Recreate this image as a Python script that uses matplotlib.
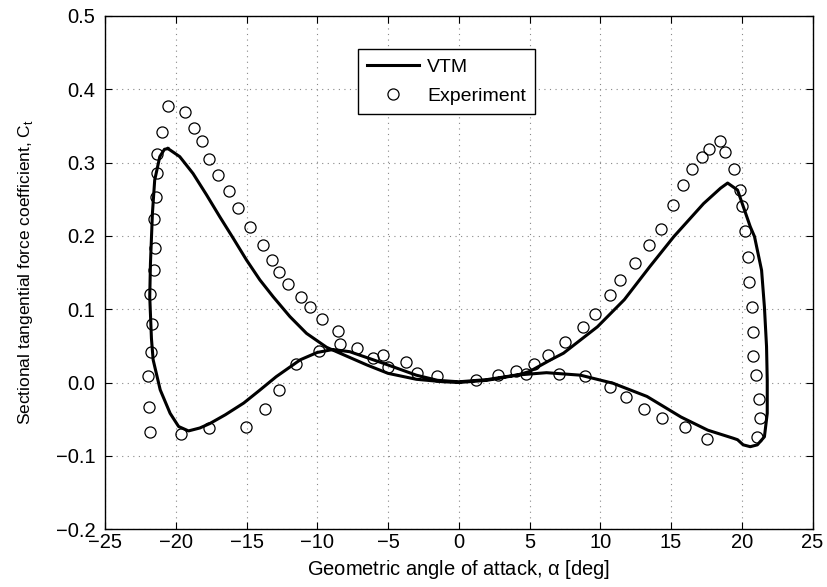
import numpy as np
import matplotlib
matplotlib.use("Agg")
import matplotlib.pyplot as plt

plt.rcParams["font.family"] = ["Liberation Sans", "DejaVu Sans"]
plt.rcParams["axes.unicode_minus"] = True

# VTM prediction, closed hysteresis loop (alpha in deg, Ct)
vtm_alpha = [-20.55, -19.72, -18.78, -17.83, -16.89, -15.95, -15.0, -14.06, -13.12, -11.94,
             -10.76, -9.34, -8.4, -6.5, -5.0, -3.0, -1.1, 0.0, 2.0, 4.1,
             5.0, 6.5, 7.4, 9.8, 11.7, 13.5, 15.2, 17.3, 18.5, 19.0,
             19.7, 20.6, 20.9, 21.4, 21.6, 21.75, 21.8, 21.8, 21.6, 21.1,
             20.6, 20.1, 19.7, 19.4, 17.6, 15.7, 13.3, 10.9, 8.6, 6.2,
             4.0, 2.0, 0.0, -1.5, -3.0, -5.3, -7.7, -8.9, -10.0, -11.2,
             -12.9, -14.1, -15.2, -16.5, -17.6, -18.3, -19.1, -19.8, -20.4, -21.1,
             -21.6, -21.72, -21.84, -21.79, -21.65, -21.49, -21.13, -20.8, -20.55]
vtm_ct = [0.319, 0.308, 0.285, 0.256, 0.226, 0.197, 0.167, 0.140, 0.117, 0.090,
          0.067, 0.048, 0.040, 0.024, 0.0125, 0.0044, 0.001, 0.0, 0.003, 0.010,
          0.015, 0.031, 0.040, 0.076, 0.113, 0.158, 0.199, 0.244, 0.265, 0.272,
          0.2625, 0.2125, 0.199, 0.153, 0.103, 0.049, 0.003, -0.042, -0.074, -0.085,
          -0.0875, -0.085, -0.078, -0.076, -0.065, -0.047, -0.019, -0.001, 0.010, 0.0134,
          0.010, 0.004, 0.001, 0.003, 0.010, 0.026, 0.042, 0.045, 0.041, 0.031,
          0.008, -0.011, -0.028, -0.044, -0.056, -0.062, -0.066, -0.060, -0.042, -0.010,
          0.031, 0.060, 0.117, 0.1625, 0.231, 0.276, 0.308, 0.318, 0.319]

# experimental data
exp_alpha = [-20.58, -19.37, -18.71, -18.16, -17.67, -17.01, -16.27, -15.57, -14.79, -13.87,
             -13.21, -12.67, -12.08, -11.18, -10.52, -9.65, -8.56, -8.40, -7.22, -6.04,
             -5.38, -5.00, -3.73, -2.95, -1.56, 1.20, 2.76, 4.05, 4.74, 5.33,
             6.34, 7.54, 8.77, 9.64, 10.71, 11.39, 12.45, 13.47, 14.31, 15.14,
             15.87, 16.49, 17.21, 17.66, 18.47, 18.79, 19.48, 19.86, 20.02, 20.24,
             20.42, 20.54, 20.73, 20.78, 20.80, 20.99, 21.20, 21.32, 21.06, 17.57,
             15.96, 14.38, 13.06, 11.82, 10.71, 8.94, 7.05,
             -9.91, -11.51, -12.67, -13.71, -15.07, -17.67, -19.63, -21.84, -21.89, -21.93,
             -21.72, -21.70, -21.79, -21.51, -21.49, -21.51, -21.40, -21.35, -21.30, -20.97]
exp_ct = [0.377, 0.369, 0.347, 0.330, 0.305, 0.283, 0.261, 0.238, 0.212, 0.188,
          0.167, 0.151, 0.135, 0.117, 0.103, 0.087, 0.070, 0.053, 0.047, 0.034,
          0.038, 0.021, 0.028, 0.013, 0.0085, 0.003, 0.0098, 0.016, 0.011, 0.025,
          0.038, 0.055, 0.076, 0.094, 0.119, 0.140, 0.163, 0.187, 0.210, 0.242,
          0.270, 0.291, 0.307, 0.319, 0.330, 0.315, 0.291, 0.263, 0.241, 0.207,
          0.171, 0.137, 0.103, 0.069, 0.036, 0.010, -0.0225, -0.048, -0.074, -0.077,
          -0.061, -0.049, -0.036, -0.020, -0.0057, 0.0085, 0.0116,
          0.043, 0.025, -0.0098, -0.036, -0.060, -0.062, -0.070, -0.067, -0.033, 0.0085,
          0.042, 0.080, 0.121, 0.153, 0.184, 0.223, 0.253, 0.286, 0.312, 0.342]

x_ticks = list(range(-25, 30, 5))
y_ticks = [-0.2, -0.1, 0.0, 0.1, 0.2, 0.3, 0.4, 0.5]

fig = plt.figure(figsize=(8.27, 5.87), dpi=100)
ax = fig.add_axes([0.127, 0.0985, 0.8555, 0.8745])

ax.plot(vtm_alpha, vtm_ct, color="black", linewidth=2.2, label="VTM",
        solid_joinstyle="round")
ax.plot(exp_alpha, exp_ct, linestyle="none", marker="o", markersize=8,
        markerfacecolor="none", markeredgecolor="black", markeredgewidth=0.9,
        label="Experiment")

ax.set_xlim(-25, 25)
ax.set_ylim(-0.2, 0.5)
ax.set_xticks(x_ticks)
ax.set_yticks(y_ticks)
ax.set_xticklabels([str(t).replace("-", "\u2212") for t in x_ticks])
ax.set_yticklabels([f"{t:.1f}".replace("-", "\u2212") for t in y_ticks])
ax.tick_params(direction="in", top=True, right=True, length=5, width=0.8,
               labelsize=14.5)
ax.tick_params(axis="x", pad=3)
ax.tick_params(axis="y", pad=7)
ax.grid(True, linestyle=(0, (1, 4)), color="#888888", linewidth=0.8)
for s in ax.spines.values():
    s.set_linewidth(1.0)

ax.set_xlabel(r"Geometric angle of attack, $\mathregular{\alpha}$ [deg]", fontsize=14.5, labelpad=4)
ax.set_ylabel(r"Sectional tangential force coefficient, C$_\mathregular{t}$", fontsize=12.5, labelpad=15)

leg = ax.legend(loc="upper left", bbox_to_anchor=(0.3576, 0.935), borderaxespad=0,
                fontsize=14, frameon=True, fancybox=False, handlelength=2.7,
                handletextpad=0.4, borderpad=0.45, labelspacing=0.6)
leg.get_frame().set_edgecolor("black")
leg.get_frame().set_linewidth(1.0)
leg.get_frame().set_alpha(1)

fig.savefig("out.png", dpi=100)
